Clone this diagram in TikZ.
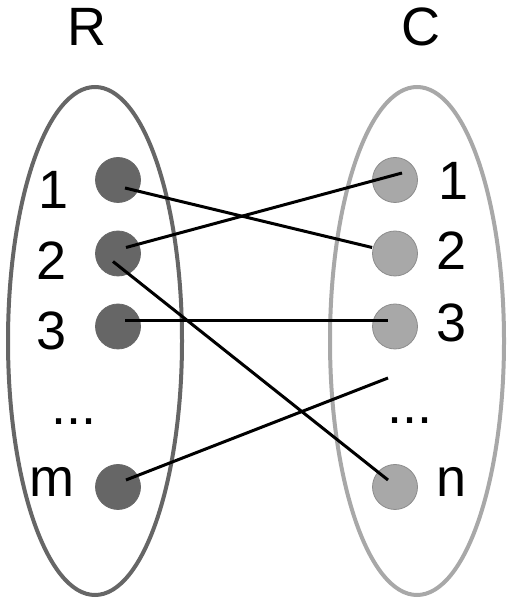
\documentclass[tikz,border=0pt]{standalone}
\usepackage{fontspec}
\setmainfont{Liberation Sans}
\usetikzlibrary{calc}
\definecolor{rgray}{HTML}{666666}
\definecolor{cgray}{HTML}{A8A8A8}
\definecolor{cedge}{HTML}{8C8C8C}

\begin{document}
\begin{tikzpicture}[x=1pt, y=1pt,
    rdot/.style={circle, fill=rgray, draw=rgray, line width=0.8pt, minimum size=45pt, inner sep=0pt},
    cdot/.style={circle, fill=cgray, draw=cedge, line width=0.8pt, minimum size=45pt, inner sep=0pt},
    lbl/.style={font=\fontsize{54}{60}\selectfont, anchor=base, inner sep=0pt},
    link/.style={black, line width=3pt}]
  \useasboundingbox (0,0) rectangle (519,604);

  % ---------- the two sets ----------
  \draw[rgray, line width=4pt] (95,263) ellipse (87 and 254);
  \draw[cgray, line width=4pt] (417,263) ellipse (87 and 254);

  \node[lbl] (setR) at (87,558) {R};
  \node[lbl] (setC) at (421,558) {C};

  % ---------- elements of R ----------
  \node[rdot] (l1) at (118,424) {};
  \node[rdot] (l2) at (118,350.5) {};
  \node[rdot] (l3) at (118,277.5) {};
  \node[rdot] (lm) at (118,117) {};

  \node[lbl] (tl1) at (54,395) {1};
  \node[lbl] (tl2) at (52,324) {2};
  \node[lbl] (tl3) at (52,254) {3};
  \node[lbl] (tldots) at (74,179) {...};
  \node[lbl] (tlm) at (52,107) {m};

  % ---------- elements of C ----------
  \node[cdot] (r1) at (395,424) {};
  \node[cdot] (r2) at (395,350.5) {};
  \node[cdot] (r3) at (395,277.5) {};
  \node[cdot] (rn) at (395,117) {};

  \node[lbl] (tr1) at (454,404) {1};
  \node[lbl] (tr2) at (452,334) {2};
  \node[lbl] (tr3) at (452,262) {3};
  \node[lbl] (trdots) at (410,180) {...};
  \node[lbl] (trn) at (452,107) {n};

  % free end of the last link, in the gap of C
  \coordinate (gap) at (388,226);

  % ---------- links ----------
  \draw[link] ([shift={(7,-8)}]l1.center) -- ([shift={(0,6)}]r2.west);
  \draw[link] ([shift={(8,6)}]l2.center) -- ([shift={(7,7)}]r1.center);
  \draw[link] ([shift={(-5,-8)}]l2.center) -- ([shift={(-7,7)}]rn.center);
  \draw[link] ([shift={(7,6)}]l3.center) -- ([shift={(-7,6)}]r3.center);
  \draw[link] ([shift={(8,7)}]lm.center) -- (gap);
\end{tikzpicture}
\end{document}
